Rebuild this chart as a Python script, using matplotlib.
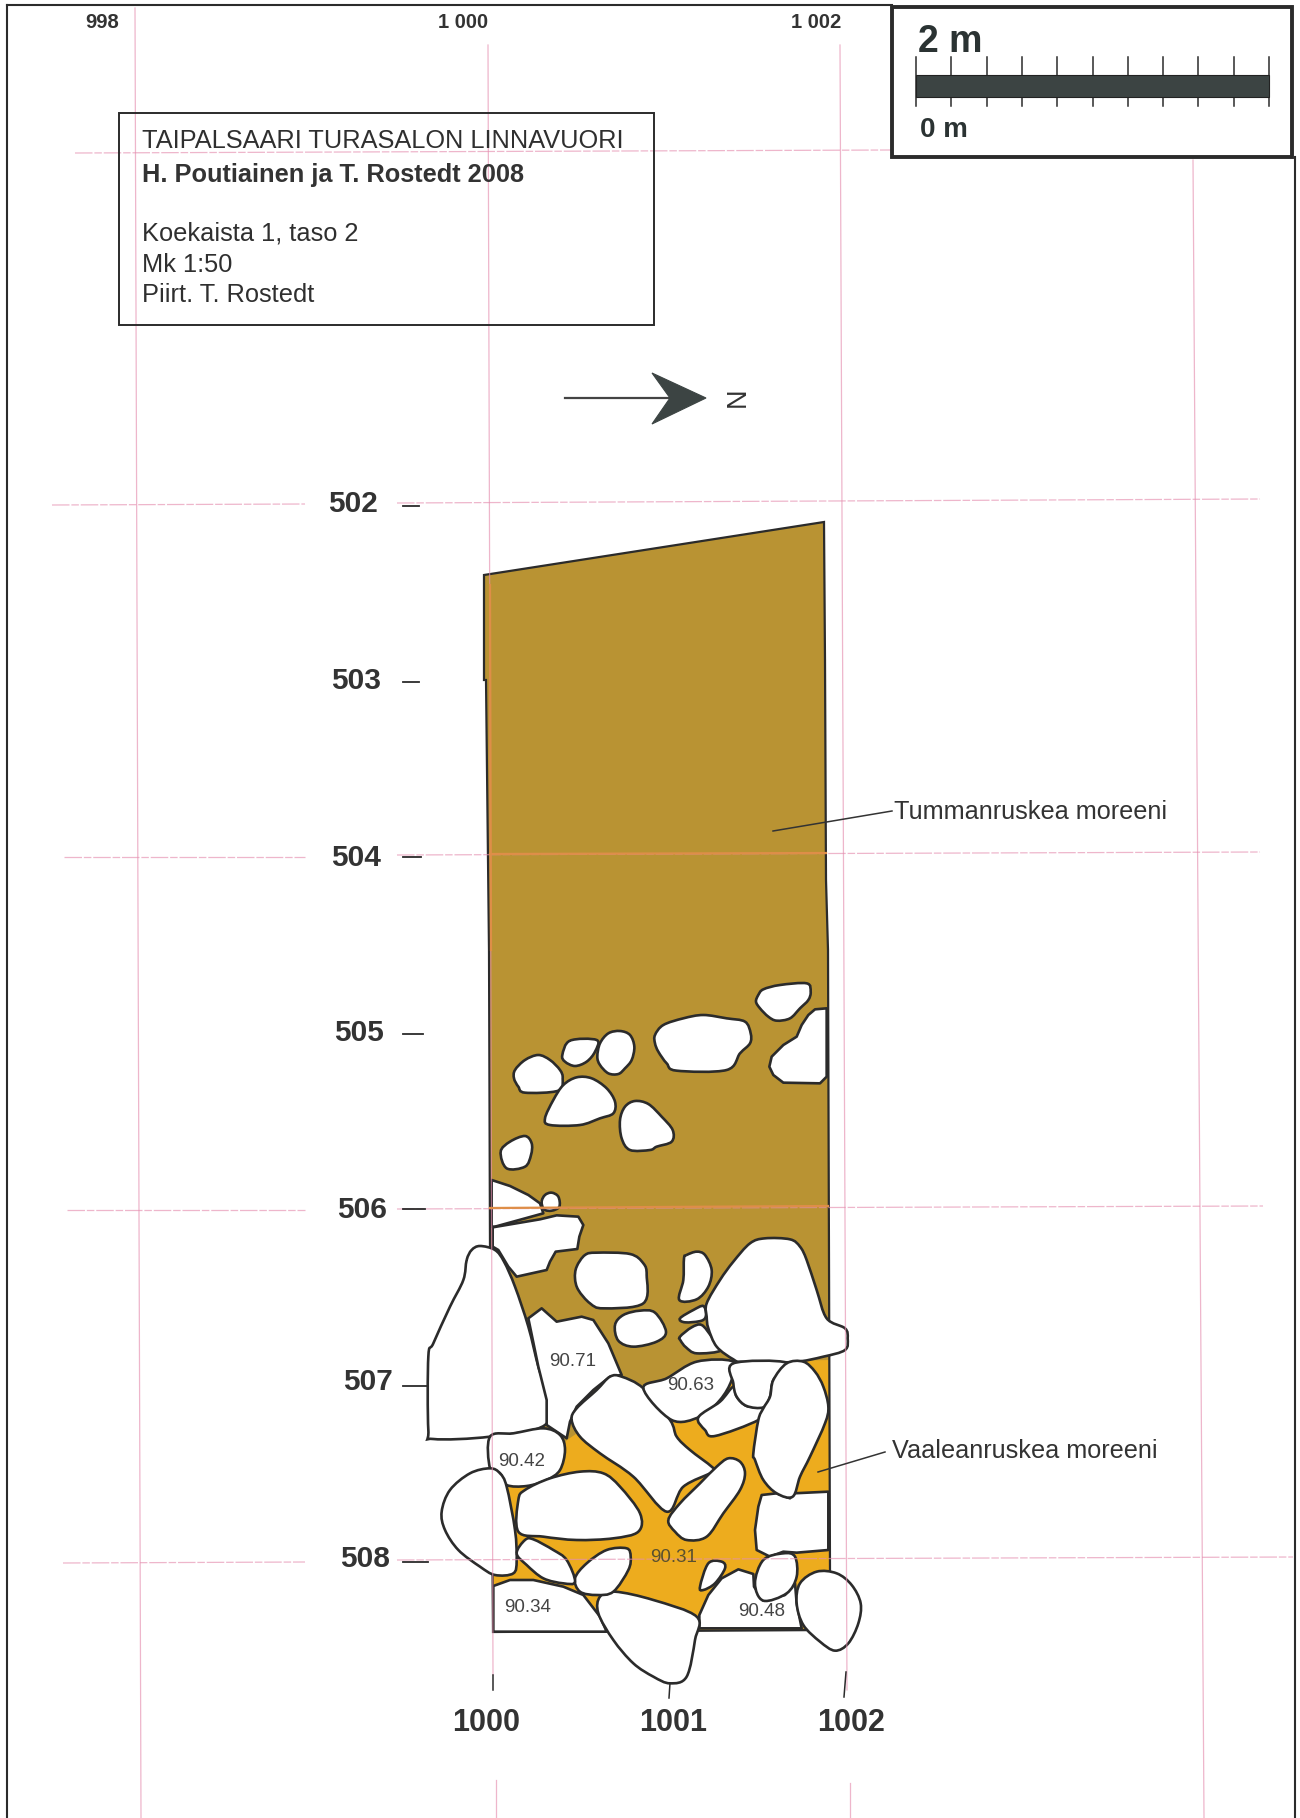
import numpy as np
import matplotlib
matplotlib.use("Agg")
import matplotlib.pyplot as plt
from matplotlib.patches import PathPatch, Polygon, Rectangle
from matplotlib.path import Path

plt.rcParams['font.family'] = ['Liberation Sans', 'DejaVu Sans']

# -----------------------------------------------------------------------------
# Plan data, read off the scan. Stones are in units of 1/3 scan pixel, measured
# from the point (400, 950) for the upper list and (400, 1330) for the lower one
# -----------------------------------------------------------------------------
upper_round = [
    [(1075, 135), (1090, 118), (1140, 105), (1220, 100), (1232, 125), (1225, 150), (1200, 175), (1170, 205), (1130, 212), (1105, 200), (1080, 175), (1068, 155)],
    [(765, 255), (790, 225), (850, 205), (910, 195), (980, 205), (1035, 215), (1052, 250), (1050, 280), (1020, 310), (980, 360), (830, 362), (800, 340), (775, 305), (765, 280)],
    [(600, 280), (625, 250), (660, 243), (690, 255), (703, 290), (695, 330), (675, 355), (655, 372), (625, 370), (600, 345), (592, 320)],
    [(510, 272), (590, 270), (585, 305), (560, 335), (525, 348), (495, 335), (487, 315)],
    [(345, 360), (375, 330), (415, 315), (450, 330), (480, 360), (488, 385), (475, 422), (375, 428), (355, 410), (342, 385)],
    [(435, 505), (460, 450), (490, 405), (530, 382), (575, 385), (620, 415), (645, 455), (640, 490), (600, 505), (540, 525), (450, 525)],
    [(660, 510), (675, 470), (705, 453), (745, 462), (785, 500), (818, 540), (815, 575), (770, 590), (750, 600), (690, 600), (665, 565)],
    [(302, 605), (330, 575), (375, 558), (395, 580), (393, 615), (375, 650), (320, 655)],
    [(530, 950), (555, 915), (590, 908), (690, 912), (730, 940), (740, 975), (730, 1060), (610, 1075), (570, 1060), (535, 1020), (525, 985)],
    [(860, 915), (890, 905), (915, 915), (935, 960), (925, 1010), (890, 1048), (838, 1050), (850, 990), (852, 925)],
    [(645, 1125), (670, 1095), (720, 1082), (765, 1088), (798, 1145), (770, 1175), (700, 1190), (655, 1172)],
    [(840, 1160), (875, 1132), (905, 1125), (935, 1160), (965, 1200), (890, 1210), (858, 1192), (842, 1172)],
    [(840, 1105), (880, 1080), (910, 1068), (918, 1095), (905, 1112), (855, 1117)],
    [(425, 755), (435, 735), (455, 728), (475, 740), (478, 770), (455, 782), (432, 778)],
    [(920, 1060), (960, 990), (1000, 935), (1050, 880), (1095, 865), (1170, 868), (1200, 890), (1220, 930), (1250, 1020), (1280, 1105), (1335, 1135), (1343, 1165), (1335, 1200), (1270, 1220), (1180, 1236), (1030, 1236), (1000, 1228), (950, 1190), (925, 1135), (920, 1100)],
    [(200, 930), (215, 900), (240, 888), (285, 900), (312, 935), (345, 1010), (385, 1130), (415, 1250), (440, 1330), (435, 1425), (270, 1460), (100, 1467), (85, 1440), (85, 1220), (100, 1180), (150, 1070), (190, 990)],
]
upper_sharp = [
    [(1280, 175), (1245, 178), (1225, 195), (1205, 225), (1190, 260), (1150, 285), (1115, 320), (1108, 350), (1120, 375), (1150, 398), (1260, 400), (1280, 380)],
    [(275, 690), (330, 708), (385, 735), (420, 760), (430, 790), (285, 830), (275, 830)],
    [(278, 832), (420, 808), (470, 796), (535, 800), (550, 825), (538, 860), (532, 897), (467, 905), (450, 935), (440, 960), (350, 980), (325, 950), (295, 900), (278, 890)],
    [(385, 1105), (425, 1075), (470, 1115), (545, 1100), (580, 1110), (625, 1180), (665, 1275), (630, 1280), (580, 1320), (530, 1370), (510, 1415), (500, 1465), (440, 1425), (440, 1350), (415, 1250)],
]
lower_sharp = [
    [(1085, 495), (1130, 490), (1170, 505), (1180, 490), (1285, 485), (1285, 660), (1190, 668), (1150, 665), (1110, 680), (1070, 660), (1065, 600), (1075, 530)],
    [(898, 855), (925, 795), (965, 745), (1015, 718), (1060, 732), (1062, 770), (1090, 812), (1155, 795), (1185, 760), (1190, 820), (1205, 895), (898, 895)],
    [(280, 768), (330, 750), (400, 750), (490, 770), (550, 795), (600, 860), (620, 905), (280, 905)],
]
lower_round = [
    [(270, 320), (340, 310), (430, 295), (480, 315), (495, 360), (480, 420), (440, 450), (380, 468), (320, 465), (300, 430), (270, 415)],
    [(125, 545), (150, 480), (210, 430), (270, 415), (300, 430), (320, 470), (345, 600), (350, 690), (340, 730), (285, 735), (240, 710), (175, 660), (135, 600)],
    [(515, 270), (530, 235), (590, 180), (630, 140), (665, 140), (730, 175), (810, 270), (830, 320), (870, 360), (935, 410), (940, 425), (850, 470), (800, 545), (700, 440), (600, 370), (540, 320)],
    [(730, 175), (800, 145), (890, 95), (1000, 95), (995, 150), (960, 210), (900, 260), (815, 270)],
    [(895, 262), (960, 215), (1000, 170), (1010, 200), (1040, 228), (1090, 235), (1075, 270), (945, 318), (915, 300)],
    [(1000, 100), (1160, 98), (1120, 150), (1110, 200), (1090, 232), (1040, 228), (1010, 200), (1000, 160)],
    [(1160, 100), (1210, 95), (1245, 125), (1270, 170), (1285, 230), (1275, 280), (1230, 380), (1200, 440), (1178, 500), (1130, 490), (1090, 450), (1065, 390), (1060, 370), (1075, 270), (1090, 235), (1110, 200), (1120, 150)],
    [(595, 850), (600, 800), (645, 785), (760, 810), (890, 860), (885, 930), (860, 1040), (810, 1060), (760, 1040), (700, 1000), (640, 930)],
    [(355, 510), (375, 480), (450, 445), (540, 425), (610, 430), (660, 470), (720, 550), (715, 605), (640, 625), (530, 630), (430, 620), (355, 605)],
    [(805, 570), (840, 520), (900, 460), (950, 410), (985, 385), (1020, 395), (1035, 430), (1020, 480), (970, 550), (920, 620), (860, 630), (825, 605)],
    [(1065, 760), (1090, 690), (1150, 670), (1185, 680), (1190, 740), (1160, 790), (1090, 812)],
    [(1190, 820), (1200, 760), (1250, 725), (1310, 730), (1355, 765), (1382, 820), (1375, 880), (1345, 940), (1305, 962), (1260, 935), (1210, 885)],
    [(900, 770), (925, 700), (965, 695), (975, 715), (945, 760), (910, 780)],
    [(525, 745), (560, 700), (620, 660), (680, 655), (692, 680), (685, 720), (640, 785), (590, 795), (540, 785)],
    [(350, 670), (375, 630), (400, 628), (460, 660), (500, 690), (525, 755), (490, 760), (430, 745), (380, 705)],
]

# moraine areas, in scan pixels
dark_moraine = [(484, 575), (824, 522), (825, 660), (826, 880), (828, 950), (830, 1572), (830, 1630), (493, 1632), (490, 1250), (489, 950), (486, 680), (484, 680)]
light_moraine = [(500, 1477), (560, 1451), (567, 1440), (643, 1389), (733, 1362), (830, 1360), (830, 1571), (810, 1578), (798, 1584), (783, 1610), (700, 1625), (598, 1613), (567, 1610), (493, 1610), (493, 1583), (500, 1477)]

elevations = ["90.71", "90.63", "90.42", "90.31", "90.34", "90.48"]
elevation_x = [573, 691, 522, 674, 528, 762]
elevation_y = [1361, 1386, 1461, 1558, 1607, 1612]

north_labels = ["502", "503", "504", "505", "506", "507", "508"]
north_label_x = [353, 356, 356, 359, 362, 368, 365]
north_label_y = [504, 681, 858, 1033, 1210, 1382, 1559]
north_tick_x1 = [419, 419, 421, 423, 425, 427, 428]
north_tick_y = [506, 682, 857, 1034, 1209, 1386, 1562]

east_labels = ["1000", "1001", "1002"]
east_label_x = [486, 673, 851]
east_ticks = [(493, 1675, 493, 1690), (670, 1683, 669, 1698), (846, 1672, 844, 1697)]

top_labels = ["998", "1 000", "1 002"]
top_label_x = [102, 463, 816]

# grid lines of the site, (x0, y0, x1, y1)
grid_vertical = [
    (135, 8, 141, 1818), (488, 45, 493, 1675), (496, 1780, 496, 1818),
    (840, 45, 847, 1690), (850, 1783, 850, 1818), (1193, 160, 1204, 1818),
]
grid_horizontal = [
    (75, 153, 892, 150), (52, 505, 305, 504), (397, 503, 1260, 499),
    (64, 857, 305, 857), (397, 855, 1260, 852), (67, 1210, 305, 1210),
    (397, 1209, 1263, 1206), (63, 1563, 305, 1562), (397, 1560, 1293, 1557),
]
grid_in_fill = [(490, 585, 491, 950), (490, 854, 826, 853), (490, 1208, 828, 1206)]

title_lines = ["TAIPALSAARI TURASALON LINNAVUORI", "H. Poutiainen ja T. Rostedt 2008", "Koekaista 1, taso 2", "Mk 1:50", "Piirt. T. Rostedt"]
title_baselines = [148, 182, 240, 272, 302]
scale_ticks = np.linspace(916, 1269, 11)

INK = "#2b2b2b"
SLATE = "#3c4443"


def to_scan(points, y0):
    pts = np.array(points, dtype=float)
    return np.column_stack([400 + pts[:, 0] / 3, y0 + pts[:, 1] / 3])


def rounded_path(pts):
    # closed bezier that passes through every traced point
    before = np.roll(pts, 1, axis=0)
    after = np.roll(pts, -1, axis=0)
    after2 = np.roll(pts, -2, axis=0)
    verts = [pts[0]]
    codes = [Path.MOVETO]
    for p0, p1, p2, p3 in zip(before, pts, after, after2):
        verts += [p1 + (p2 - p0) / 6, p2 - (p3 - p1) / 6, p2]
        codes += [Path.CURVE4, Path.CURVE4, Path.CURVE4]
    return Path(verts, codes)


def add_stone(ax, pts, rounded):
    if rounded:
        patch = PathPatch(rounded_path(pts), fc="white", ec=INK, lw=1.9, zorder=3)
    else:
        patch = Polygon(pts, closed=True, fc="white", ec=INK, lw=1.9, joinstyle="round", zorder=3)
    ax.add_patch(patch)


fig = plt.figure(figsize=(13, 18.18), dpi=100)
ax = fig.add_axes([0, 0, 1, 1])
ax.set_xlim(0, 1300)
ax.set_ylim(1818, 0)
ax.axis("off")

# frame of the sheet
ax.plot([7, 7], [5, 1818], color=INK, lw=1.5, zorder=1)
ax.plot([1295, 1295], [157, 1818], color=INK, lw=1.5, zorder=1)
ax.plot([7, 892], [5, 5], color=INK, lw=1.5, zorder=1)

# moraine fills
ax.add_patch(Polygon(dark_moraine, closed=True, fc="#B99333", ec="none", zorder=2))
ax.add_patch(Polygon(light_moraine, closed=True, fc="#EDAC1E", ec="none", zorder=2.1))
ax.add_patch(Polygon(dark_moraine, closed=True, fc="none", ec=INK, lw=1.6, zorder=2.2))

for stone in upper_round:
    add_stone(ax, to_scan(stone, 950), True)
for stone in upper_sharp:
    add_stone(ax, to_scan(stone, 950), False)
for stone in lower_sharp:
    add_stone(ax, to_scan(stone, 1330), False)
for stone in lower_round:
    add_stone(ax, to_scan(stone, 1330), True)

# pink grid on top of everything, it was printed on the sheet
for x0, y0, x1, y1 in grid_vertical:
    ax.plot([x0, x1], [y0, y1], color="#E58FB0", lw=0.9, alpha=0.65, zorder=4)
for x0, y0, x1, y1 in grid_horizontal:
    ax.plot([x0, x1], [y0, y1], color="#E58FB0", lw=0.9, alpha=0.65, ls=(0, (14, 1.5, 6, 1.5)), zorder=4)
for x0, y0, x1, y1 in grid_in_fill:
    ax.plot([x0, x1], [y0, y1], color="#DE8E48", lw=1.6, zorder=4)

for txt, x, y in zip(elevations, elevation_x, elevation_y):
    ax.text(x, y, txt, fontsize=13.5, color="#5a5030" if txt == "90.31" else "#444444", ha="center", va="center", zorder=5)

for txt, x, y in zip(north_labels, north_label_x, north_label_y):
    ax.text(x, y, txt, fontsize=21.5, fontweight="bold", color="#333333", ha="center", va="center", zorder=5)
for x1, y in zip(north_tick_x1, north_tick_y):
    ax.plot([403, x1], [y, y], color=INK, lw=1.3, zorder=5)

for txt, x in zip(east_labels, east_label_x):
    ax.text(x, 1723, txt, fontsize=22, fontweight="bold", color="#333333", ha="center", va="center", zorder=5)
for x0, y0, x1, y1 in east_ticks:
    ax.plot([x0, x1], [y0, y1], color=INK, lw=1.1, zorder=5)

for txt, x in zip(top_labels, top_label_x):
    ax.text(x, 23, txt, fontsize=14.5, fontweight="bold", color="#333333", ha="center", va="center", zorder=5)

# title box
ax.add_patch(Rectangle((119, 113), 535, 212, fc="none", ec=INK, lw=1.4, zorder=5))
for i, (txt, y) in enumerate(zip(title_lines, title_baselines)):
    if i == 1:
        ax.text(142, y, txt, fontsize=18.3, fontweight="bold", color="#333333", ha="left", va="baseline", zorder=5)
    else:
        ax.text(142, y, txt, fontsize=18.3, color="#2f2f2f", ha="left", va="baseline", zorder=5)

# north arrow
ax.plot([565, 672], [398, 398], color="#444444", lw=1.6, zorder=5)
ax.add_patch(Polygon([(706, 398), (652, 373), (670, 398), (652, 424)], closed=True, fc=SLATE, ec=SLATE, lw=0.8, zorder=5))
ax.text(738, 397, "N", fontsize=19.5, rotation=90, color="#333333", ha="center", va="center", zorder=5)

# scale bar
ax.add_patch(Rectangle((892, 7), 400, 150, fc="white", ec=INK, lw=2.8, zorder=5))
ax.add_patch(Rectangle((916, 75), 353, 22, fc=SLATE, ec="#222222", lw=0.8, zorder=6))
for x in scale_ticks:
    ax.plot([x, x], [57, 106], color=INK, lw=1.1, zorder=5.5)
ax.text(918, 52, "2 m", fontsize=27, fontweight="bold", color="#2b3333", ha="left", va="baseline", zorder=6)
ax.text(920, 137, "0 m", fontsize=20, fontweight="bold", color="#2b3333", ha="left", va="baseline", zorder=6)

# legend leaders
ax.plot([773, 892], [831, 811], color="#333333", lw=1.1, zorder=5)
ax.text(894, 819, "Tummanruskea moreeni", fontsize=18.2, color="#333333", ha="left", va="baseline", zorder=5)
ax.plot([818, 885], [1472, 1452], color="#333333", lw=1.1, zorder=5)
ax.text(892, 1458, "Vaaleanruskea moreeni", fontsize=18.2, color="#333333", ha="left", va="baseline", zorder=5)

fig.savefig("out.png", dpi=100)
